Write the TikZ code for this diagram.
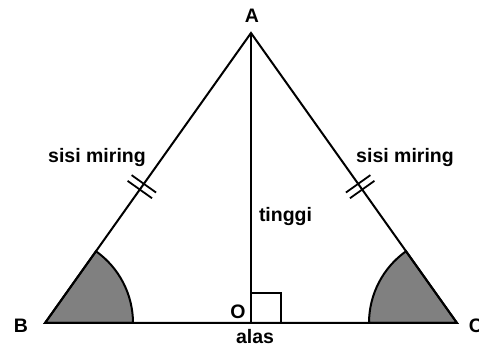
\documentclass[tikz,border=0pt]{standalone}
\usepackage{fontspec}
\setmainfont{Liberation Sans}
\usetikzlibrary{positioning,calc}

\begin{document}
\begin{tikzpicture}[x=1pt, y=1pt, line width=2pt, line join=miter,
      lbl/.style={inner sep=0pt, anchor=base, font=\bfseries\fontsize{19.5}{22}\selectfont},
      tick/.style={line width=1.8pt}]
      \useasboundingbox (0,0) rectangle (479,347);
      \coordinate (A) at (251,314);
      \coordinate (B) at (45,24);
      \coordinate (C) at (457,24);
      \coordinate (O) at (251,24);
      % shaded base angles
      \filldraw[fill=black!50] (B) -- ++(88pt,0) arc[start angle=0, end angle=54.6, radius=88pt] -- cycle;
      \filldraw[fill=black!50] (C) -- ++(-88pt,0) arc[start angle=180, end angle=125.4, radius=88pt] -- cycle;
      \draw (B) -- (A) -- (C) -- cycle;
      \draw (A) -- (O);
      \draw (O) rectangle ++(30,30);
      % equal sides
      \coordinate (mL) at ($(B)!0.47!(A)$);
      \coordinate (mR) at ($(C)!0.47!(A)$);
      \draw[tick, shift={(mL)}, rotate=54.6] (-3.5,-15) -- (-3.5,15) (3.5,-15) -- (3.5,15);
      \draw[tick, shift={(mR)}, rotate=-54.6] (-3.5,-15) -- (-3.5,15) (3.5,-15) -- (3.5,15);
      \node[lbl] (lA) at (252,324) {A};
      \node[lbl] (lB) at (21,14) {B};
      \node[lbl] (lC) at (476,14) {C};
      \node[lbl] (lO) at (238,28) {O};
      \node[lbl] (alas) at (255,3) {alas};
      \node[lbl, anchor=base west] (tinggi) at (258,125) {tinggi};
      \node[lbl] (sL) at (97,184) {sisi miring};
      \node[lbl] (sR) at (405,184) {sisi miring};
    \end{tikzpicture}
\end{document}
